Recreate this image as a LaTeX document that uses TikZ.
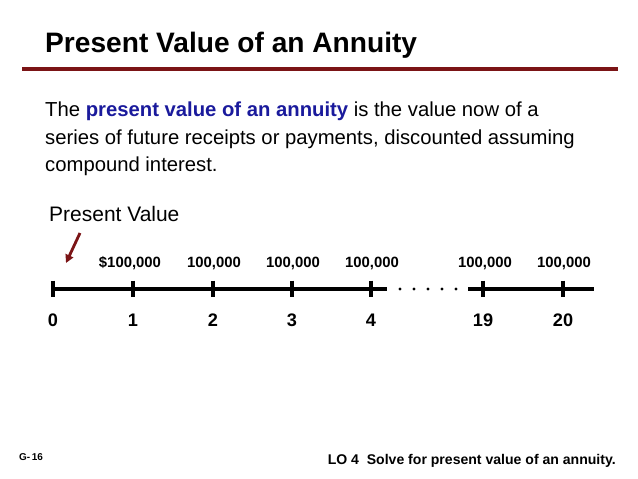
\documentclass[tikz,border=0pt]{standalone}
\usepackage{fontspec}
\setmainfont{Liberation Sans}
\usetikzlibrary{arrows.meta}

\definecolor{slidered}{HTML}{7B1416}
\definecolor{termblue}{HTML}{1A1A9C}

\tikzset{
  amount/.style={anchor=base, font=\bfseries\fontsize{12.7}{14}\selectfont},
  period/.style={anchor=base, font=\bfseries\fontsize{15.5}{18}\selectfont},
  tick/.style={line width=2.6pt},
  axis/.style={line width=2.6pt},
}

\begin{document}
\begin{tikzpicture}[x=0.03cm, y=-0.03cm]
  \useasboundingbox (0,0) rectangle (638,479);

  % heading
  \node[anchor=base west, inner sep=0] (title) at (45,53)
    {\bfseries\fontsize{24}{28}\selectfont Present Value of an Annuity};
  \coordinate (rulel) at (22,69);
  \coordinate (ruler) at (618,69);
  \draw[slidered, line width=3pt] (rulel) -- (ruler);

  % definition
  \node[anchor=base west, inner sep=0] (line1) at (45,117)
    {\fontsize{17.3}{20}\selectfont The \textcolor{termblue}{\bfseries present value of an annuity} is the value now of a};
  \node[anchor=base west, inner sep=0] (line2) at (45,145)
    {\fontsize{17.3}{20}\selectfont series of future receipts or payments, discounted assuming};
  \node[anchor=base west, inner sep=0] (line3) at (45,172)
    {\fontsize{17.3}{20}\selectfont compound interest.};

  \node[anchor=base west, inner sep=0] (pv) at (49,221)
    {\fontsize{17.9}{20}\selectfont Present Value};
  \coordinate (pvtail) at (80,233);
  \coordinate (pvhead) at (66,263);
  \draw[slidered, line width=2.4pt, -{Triangle[length=7pt, width=7pt]}] (pvtail) -- (pvhead);

  % time line
  \coordinate (t0) at (53,289);
  \coordinate (t1) at (133,289);
  \coordinate (t2) at (213,289);
  \coordinate (t3) at (292,289);
  \coordinate (t4) at (371,289);
  \coordinate (gapl) at (387,289);
  \coordinate (gapr) at (468,289);
  \coordinate (t19) at (483,289);
  \coordinate (t20) at (563,289);
  \coordinate (tend) at (594,289);
  \draw[axis] (t0) -- (gapl);
  \draw[axis] (gapr) -- (tend);
  \foreach \x in {400,414,428,442,456}
    \fill (\x,289) circle (1.6);

  \draw[tick] ([yshift=0.25cm]t0) -- ([yshift=-0.25cm]t0);
  \draw[tick] ([yshift=0.25cm]t1) -- ([yshift=-0.25cm]t1);
  \draw[tick] ([yshift=0.25cm]t2) -- ([yshift=-0.25cm]t2);
  \draw[tick] ([yshift=0.25cm]t3) -- ([yshift=-0.25cm]t3);
  \draw[tick] ([yshift=0.25cm]t4) -- ([yshift=-0.25cm]t4);
  \draw[tick] ([yshift=0.25cm]t19) -- ([yshift=-0.25cm]t19);
  \draw[tick] ([yshift=0.25cm]t20) -- ([yshift=-0.25cm]t20);

  % receipts
  \node[amount] (a1) at (130,267) {\$100,000};
  \node[amount] (a2) at (214,267) {100,000};
  \node[amount] (a3) at (293,267) {100,000};
  \node[amount] (a4) at (372,267) {100,000};
  \node[amount] (a19) at (485,267) {100,000};
  \node[amount] (a20) at (564,267) {100,000};

  % periods
  \node[period] (p0) at (53,326) {0};
  \node[period] (p1) at (133,326) {1};
  \node[period] (p2) at (213,326) {2};
  \node[period] (p3) at (292,326) {3};
  \node[period] (p4) at (371,326) {4};
  \node[period] (p19) at (483,326) {19};
  \node[period] (p20) at (563,326) {20};

  % footer
  \node[anchor=base west, inner sep=0] (slide) at (19,460)
    {\bfseries\fontsize{8.5}{10}\selectfont G-\,16};
  \node[anchor=base east, inner sep=0] (lo) at (616,464)
    {\bfseries\fontsize{12}{14}\selectfont LO 4\ \ Solve for present value of an annuity.};
\end{tikzpicture}
\end{document}
